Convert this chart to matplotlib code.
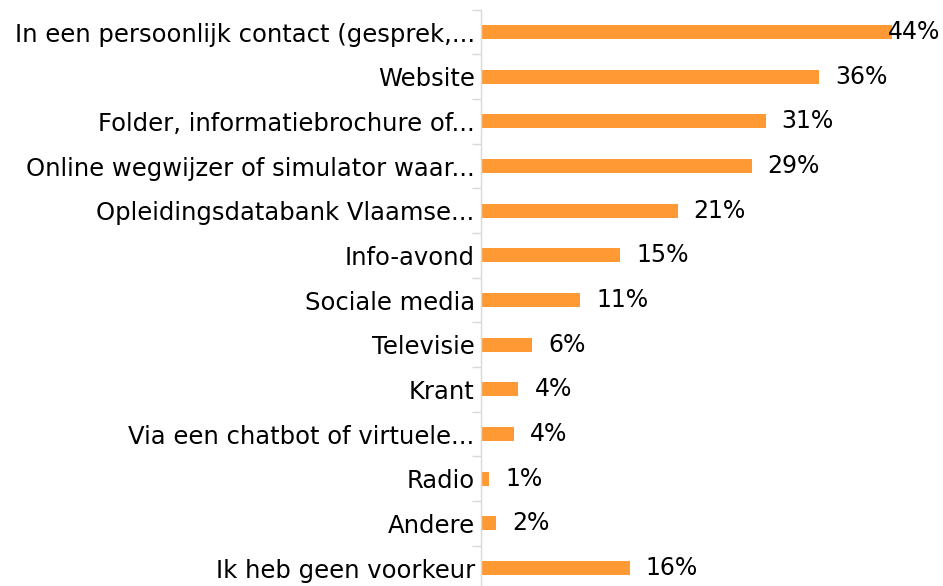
import numpy as np
import matplotlib
matplotlib.use("Agg")
import matplotlib.pyplot as plt

categories = [
    "In een persoonlijk contact (gesprek,...",
    "Website",
    "Folder, informatiebrochure of...",
    "Online wegwijzer of simulator waar...",
    "Opleidingsdatabank Vlaamse...",
    "Info-avond",
    "Sociale media",
    "Televisie",
    "Krant",
    "Via een chatbot of virtuele...",
    "Radio",
    "Andere",
    "Ik heb geen voorkeur",
]
values = [43.9, 36.1, 30.4, 28.9, 21.0, 14.9, 10.6, 5.5, 4.0, 3.5, 0.9, 1.6, 15.9]
shown = [44, 36, 31, 29, 21, 15, 11, 6, 4, 4, 1, 2, 16]

bar_color = "#FF9933"
axis_color = "#D9D9D9"

plt.rcParams["font.family"] = ["DejaVu Sans"]
fs_cat = 17.5
fs_val = 17

W, H = 943, 586
fig = plt.figure(figsize=(W / 100, H / 100), dpi=100)

# plot area in pixels
left_px, right_px = 481, 943
top_px = 9.7
step_px = 44.67
n = len(categories)
bottom_px = top_px + n * step_px
ax = fig.add_axes([left_px / W, 1 - bottom_px / H,
                   (right_px - left_px) / W, (bottom_px - top_px) / H])

px_per_pct = 9.36
xmax = (right_px - left_px) / px_per_pct

y = np.arange(n)
ax.barh(y, values, height=0.31, color=bar_color, zorder=2)

ax.set_xlim(0, xmax)
ax.set_ylim(n - 0.5, -0.5)

for s in ["top", "right", "bottom"]:
    ax.spines[s].set_visible(False)
ax.spines["left"].set_color(axis_color)
ax.spines["left"].set_linewidth(1.0)
ax.set_xticks([])

# ticks between categories, labels at the centres
ax.set_yticks(np.arange(-0.5, n, 1.0))
ax.set_yticklabels([])
ax.tick_params(axis="y", which="major", length=6.5, width=1.0, color=axis_color)
ax.set_yticks(y, minor=True)
ax.set_yticklabels(categories, minor=True, fontsize=fs_cat, color="black")
ax.tick_params(axis="y", which="minor", length=0, pad=4.5)

offset_pct = 16 / px_per_pct
for yi, v, lab in zip(y, values, shown):
    txt = f"{lab}%"
    if v + offset_pct + 5 > xmax:
        ax.text(xmax - 0.3, yi, txt, ha="right", va="center", fontsize=fs_val,
                color="black", zorder=3)
    else:
        ax.text(v + offset_pct, yi, txt, ha="left", va="center", fontsize=fs_val,
                color="black", zorder=3)

fig.savefig("out.png", dpi=100)
